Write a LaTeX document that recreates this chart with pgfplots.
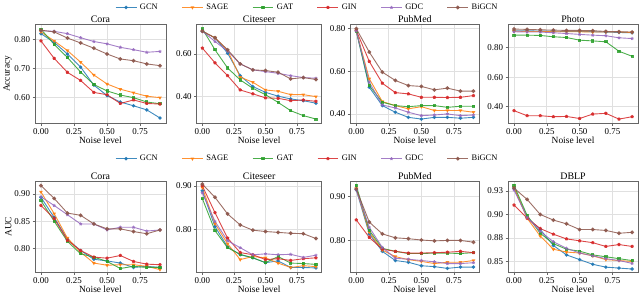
\documentclass[border=0pt]{standalone}
\usepackage{pgfplots}
\pgfplotsset{compat=1.18}
\usepackage{pgfplotstable}
\usepackage{fontspec}
\setmainfont{Liberation Serif}
\definecolor{cgcn}{HTML}{1F77B4}
\definecolor{csage}{HTML}{FF7F0E}
\definecolor{cgat}{HTML}{2CA02C}
\definecolor{cgin}{HTML}{D62728}
\definecolor{cgdc}{HTML}{9467BD}
\definecolor{cbig}{HTML}{8C564B}

% x gcn sage gat gin gdc bigcn
\pgfplotstableread{
x gcn sage gat gin gdc big
0.0 0.820 0.826 0.835 0.795 0.830 0.832
0.1 0.790 0.795 0.783 0.735 0.828 0.826
0.2 0.750 0.762 0.738 0.687 0.820 0.805
0.3 0.705 0.722 0.688 0.659 0.806 0.788
0.4 0.643 0.678 0.645 0.618 0.793 0.770
0.5 0.607 0.647 0.623 0.610 0.785 0.750
0.6 0.585 0.629 0.609 0.580 0.773 0.733
0.7 0.572 0.617 0.600 0.592 0.765 0.727
0.8 0.558 0.605 0.585 0.580 0.756 0.716
0.9 0.530 0.600 0.579 0.578 0.759 0.710
}\coraacc
\pgfplotstableread{
x gcn sage gat gin gdc big
0.0 0.706 0.706 0.717 0.627 0.706 0.706
0.1 0.675 0.675 0.619 0.558 0.658 0.675
0.2 0.603 0.616 0.534 0.498 0.613 0.619
0.3 0.498 0.491 0.478 0.431 0.553 0.553
0.4 0.447 0.467 0.439 0.413 0.525 0.525
0.5 0.420 0.431 0.409 0.394 0.517 0.522
0.6 0.402 0.425 0.373 0.392 0.509 0.514
0.7 0.389 0.409 0.334 0.381 0.498 0.483
0.8 0.381 0.409 0.311 0.384 0.489 0.489
0.9 0.369 0.400 0.295 0.378 0.486 0.480
}\citeacc
\pgfplotstableread{
x gcn sage gat gin gdc big
0.0 0.789 0.789 0.789 0.792 0.789 0.800
0.1 0.525 0.565 0.533 0.646 0.549 0.690
0.2 0.439 0.458 0.455 0.544 0.442 0.596
0.3 0.408 0.439 0.439 0.500 0.428 0.557
0.4 0.384 0.424 0.434 0.494 0.408 0.533
0.5 0.376 0.434 0.439 0.478 0.392 0.529
0.6 0.384 0.416 0.439 0.478 0.395 0.513
0.7 0.384 0.416 0.431 0.477 0.400 0.521
0.8 0.380 0.416 0.436 0.478 0.392 0.507
0.9 0.384 0.408 0.436 0.486 0.395 0.507
}\pubacc
\pgfplotstableread{
x gcn sage gat gin gdc big
0.0 0.914 0.911 0.884 0.373 0.907 0.925
0.1 0.914 0.909 0.884 0.339 0.905 0.923
0.2 0.911 0.909 0.882 0.339 0.905 0.920
0.3 0.911 0.907 0.873 0.332 0.900 0.918
0.4 0.909 0.907 0.868 0.334 0.895 0.916
0.5 0.909 0.907 0.850 0.320 0.889 0.916
0.6 0.907 0.905 0.845 0.350 0.884 0.914
0.7 0.905 0.905 0.839 0.355 0.880 0.909
0.8 0.902 0.905 0.775 0.316 0.866 0.907
0.9 0.900 0.902 0.741 0.332 0.861 0.905
}\photoacc
\pgfplotstableread{
x gcn sage gat gin gdc big
0.0 0.894 0.904 0.888 0.879 0.895 0.9156
0.1 0.857 0.864 0.850 0.855 0.879 0.892
0.2 0.817 0.819 0.813 0.815 0.862 0.865
0.3 0.796 0.793 0.790 0.796 0.845 0.861
0.4 0.780 0.773 0.784 0.784 0.845 0.845
0.5 0.777 0.769 0.776 0.782 0.834 0.836
0.6 0.773 0.770 0.763 0.787 0.839 0.836
0.7 0.765 0.770 0.767 0.776 0.839 0.831
0.8 0.767 0.767 0.765 0.771 0.832 0.827
0.9 0.765 0.761 0.765 0.770 0.834 0.834
}\coraauc
\pgfplotstableread{
x gcn sage gat gin gdc big
0.0 0.889 0.896 0.871 0.900 0.884 0.904
0.1 0.807 0.814 0.798 0.839 0.819 0.874
0.2 0.761 0.768 0.759 0.781 0.775 0.836
0.3 0.743 0.732 0.744 0.748 0.759 0.811
0.4 0.736 0.739 0.736 0.743 0.743 0.799
0.5 0.725 0.736 0.725 0.732 0.745 0.796
0.6 0.729 0.724 0.739 0.734 0.743 0.794
0.7 0.714 0.714 0.724 0.730 0.744 0.792
0.8 0.714 0.718 0.723 0.734 0.737 0.791
0.9 0.713 0.716 0.721 0.736 0.742 0.780
}\citeauc
\pgfplotstableread{
x gcn sage gat gin gdc big
0.0 0.916 0.919 0.926 0.847 0.916 0.918
0.1 0.815 0.819 0.823 0.807 0.830 0.842
0.2 0.775 0.778 0.782 0.780 0.784 0.815
0.3 0.754 0.763 0.775 0.775 0.759 0.806
0.4 0.750 0.756 0.770 0.771 0.757 0.804
0.5 0.742 0.752 0.770 0.771 0.754 0.801
0.6 0.740 0.747 0.771 0.772 0.751 0.799
0.7 0.736 0.750 0.771 0.773 0.747 0.800
0.8 0.739 0.750 0.770 0.775 0.747 0.800
0.9 0.739 0.754 0.772 0.772 0.749 0.796
}\pubauc
\pgfplotstableread{
x gcn sage gat gin gdc big
0.0 0.928 0.929 0.931 0.910 0.926 0.928
0.1 0.897 0.896 0.899 0.896 0.897 0.916
0.2 0.884 0.877 0.880 0.885 0.882 0.900
0.3 0.867 0.863 0.869 0.879 0.871 0.894
0.4 0.857 0.860 0.863 0.874 0.864 0.890
0.5 0.852 0.859 0.861 0.872 0.859 0.884
0.6 0.847 0.856 0.857 0.870 0.856 0.884
0.7 0.844 0.852 0.855 0.866 0.853 0.883
0.8 0.843 0.851 0.853 0.868 0.851 0.880
0.9 0.842 0.850 0.851 0.866 0.848 0.881
}\dblpauc

\pgfplotsset{
  panel/.style={
    scale only axis, anchor=south west,
    xmin=-0.045, xmax=0.945, xtick={0,0.25,0.5,0.75},
    /pgf/number format/.cd, fixed, fixed zerofill, precision=2, assume math mode=true, /pgfplots/.cd,
    scaled x ticks=false, scaled y ticks=false,
    grid=major, major grid style={draw=black!12, line width=0.7pt},
    axis line style={draw=black!60, line width=0.8pt},
    tick style={draw=black!60, line width=0.6pt},
    tick align=outside, major tick length=2.5pt,
    xtick pos=bottom, ytick pos=left,
    ticklabel style={font=\fontsize{9}{10}\selectfont},
    xticklabel style={yshift=1pt},
    yticklabel style={xshift=1pt},
    label style={font=\fontsize{9.5}{11}\selectfont},
    title style={font=\fontsize{10}{12}\selectfont, yshift=-8pt},
    xlabel={Noise level}, xlabel style={yshift=4pt},
    ylabel style={yshift=-4pt},
    every axis plot/.append style={line width=0.9pt, mark size=1.3pt, opacity=0.85},
    legend image code/.code={\draw[mark repeat=2,mark phase=2] plot coordinates {(0cm,0cm) (0.37cm,0cm) (0.74cm,0cm)};},
  },
  rowlegend/.style={
    legend columns=6,
    legend style={draw=none, fill=none, at={(#1)}, anchor=center,
      font=\fontsize{8.5}{10}\selectfont,
      /tikz/every even column/.append style={column sep=22pt},
      /tikz/every odd column/.append style={column sep=1pt}},
  },
}
\newcommand{\sixplots}[1]{%
  \addplot[color=cgcn, mark=*] table[x=x,y=gcn]{#1};
  \addplot[color=csage, mark=triangle*, mark options={rotate=180}] table[x=x,y=sage]{#1};
  \addplot[color=cgat, mark=square*, mark size=1.1pt] table[x=x,y=gat]{#1};
  \addplot[color=cgin, mark=pentagon*] table[x=x,y=gin]{#1};
  \addplot[color=cgdc, mark=star, mark size=1.6pt] table[x=x,y=gdc]{#1};
  \addplot[color=cbig, mark=*, mark size=1.5pt] table[x=x,y=big]{#1};
}

\begin{document}
\begin{tikzpicture}
\path (0,0) rectangle (640pt,300pt);
% ---------- row 1 ----------
\begin{axis}[panel, at={(30pt,178pt)}, width=132pt, height=100pt,
  title={Cora}, ylabel={Accuracy}, ymin=0.511, ymax=0.852, ytick={0.6,0.7,0.8},
  rowlegend={2.08,1.17}]
\sixplots{\coraacc}
\legend{GCN,SAGE,GAT,GIN,GDC,BiGCN}
\end{axis}
\begin{axis}[panel, at={(193pt,178pt)}, width=126pt, height=100pt,
  title={Citeseer}, ymin=0.274, ymax=0.738, ytick={0.4,0.6}]
\sixplots{\citeacc}
\end{axis}
\begin{axis}[panel, at={(348pt,178pt)}, width=130pt, height=100pt,
  title={PubMed}, ymin=0.355, ymax=0.82, ytick={0.4,0.6,0.8}]
\sixplots{\pubacc}
\end{axis}
\begin{axis}[panel, at={(507pt,178pt)}, width=131pt, height=100pt,
  title={Photo}, ymin=0.286, ymax=0.957, ytick={0.4,0.6,0.8}]
\sixplots{\photoacc}
\end{axis}
% ---------- row 2 ----------
\begin{axis}[panel, at={(30pt,28pt)}, width=132pt, height=92pt,
  title={Cora}, ylabel={AUC}, ymin=0.756, ymax=0.924, ytick={0.8,0.85,0.9},
  rowlegend={2.08,1.245}]
\sixplots{\coraauc}
\legend{GCN,SAGE,GAT,GIN,GDC,BiGCN}
\end{axis}
\begin{axis}[panel, at={(193pt,28pt)}, width=126pt, height=92pt,
  title={Citeseer}, ymin=0.703, ymax=0.911, ytick={0.8,0.9}]
\sixplots{\citeauc}
\end{axis}
\begin{axis}[panel, at={(348pt,28pt)}, width=130pt, height=92pt,
  title={PubMed}, ymin=0.727, ymax=0.936, ytick={0.8,0.9}]
\sixplots{\pubauc}
\end{axis}
\begin{axis}[panel, at={(507pt,28pt)}, width=131pt, height=92pt,
  title={DBLP}, ymin=0.8385, ymax=0.9355, ytick={0.85,0.875,0.9,0.925},
  yticklabels={0.85,0.88,0.90,0.93}]
\sixplots{\dblpauc}
\end{axis}
\end{tikzpicture}
\end{document}
